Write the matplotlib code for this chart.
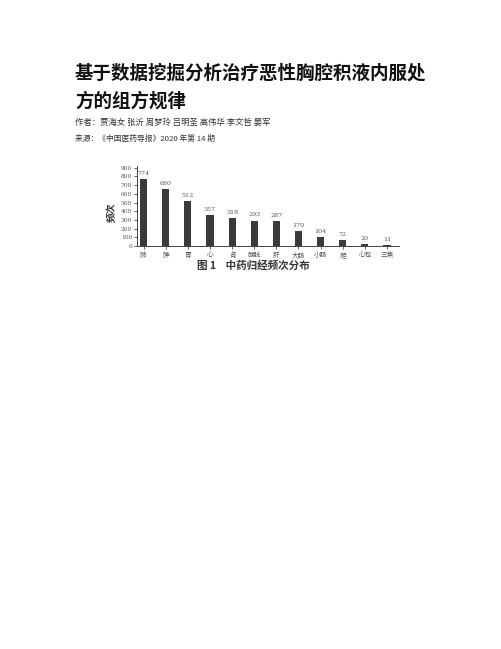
import matplotlib
matplotlib.use('Agg')
import matplotlib.pyplot as plt

plt.rcParams['font.family'] = ['Noto Sans CJK SC', 'DejaVu Sans']

title_lines = ['基于数据挖掘分析治疗恶性胸腔积液内服处', '方的组方规律']
author = '作者：贾海女 张沂 周梦玲 吕明圣 高伟华 李文哲 晏军'
source = '来源：《中国医药导报》2020 年第 14 期'
caption = '图 1    中药归经频次分布'

meridians = ['肺', '脾', '胃', '心', '肾', '膀胱', '肝', '大肠', '小肠', '胆', '心包', '三焦']
counts = [774, 660, 512, 357, 318, 293, 287, 170, 104, 72, 20, 11]
yticks = list(range(0, 1000, 100))

W, H = 502, 649
fig = plt.figure(figsize=(W / 100, H / 100), dpi=100)
fig.patch.set_facecolor('white')

# 标题与作者信息
fig.text(75 / W, 1 - 73 / H, title_lines[0], fontsize=13.3, fontweight='bold',
         color='#111111', va='center', ha='left')
fig.text(75 / W, 1 - 101 / H, title_lines[1], fontsize=13.3, fontweight='bold',
         color='#111111', va='center', ha='left')
fig.text(75 / W, 1 - 122.5 / H, author, fontsize=6.0, color='#333333',
         va='center', ha='left')
fig.text(75 / W, 1 - 138.5 / H, source, fontsize=5.6, color='#333333',
         va='center', ha='left')

# 柱状图
ax = fig.add_axes([137 / W, 1 - 246 / H, (398.7 - 137) / W, (246 - 166) / H])
x = list(range(len(meridians)))
bars = ax.bar(x, counts, width=0.32, color='#3a3a3a')
for xi, v in zip(x, counts):
    ax.text(xi, v + 35, str(v), ha='center', va='bottom', fontsize=4.6,
            color='#555555', family=['DejaVu Serif'])

ax.set_xlim(-0.3, 11.53)
ax.set_ylim(0, 920)
ax.set_yticks(yticks)
ax.set_yticklabels([str(t) for t in yticks], family=['DejaVu Serif'],
                   fontsize=4.3, color='#555555')
ax.set_xticks(x)
ax.set_xticklabels(meridians, fontsize=4.8, color='#555555')
ax.tick_params(axis='both', length=2, width=0.6, color='#444444', pad=1.5)
for s in ['top', 'right']:
    ax.spines[s].set_visible(False)
for s in ['left', 'bottom']:
    ax.spines[s].set_linewidth(0.7)
    ax.spines[s].set_color('#444444')

fig.text(112 / W, 1 - 212 / H, '频次', rotation=90, fontsize=7, fontweight='bold',
         color='#333333', va='center', ha='center')
fig.text(253 / W, 1 - 265.5 / H, caption, fontsize=7.6, fontweight='bold',
         color='#333333', va='center', ha='center')

fig.savefig('out.png', dpi=100, facecolor='white')
plt.close(fig)
